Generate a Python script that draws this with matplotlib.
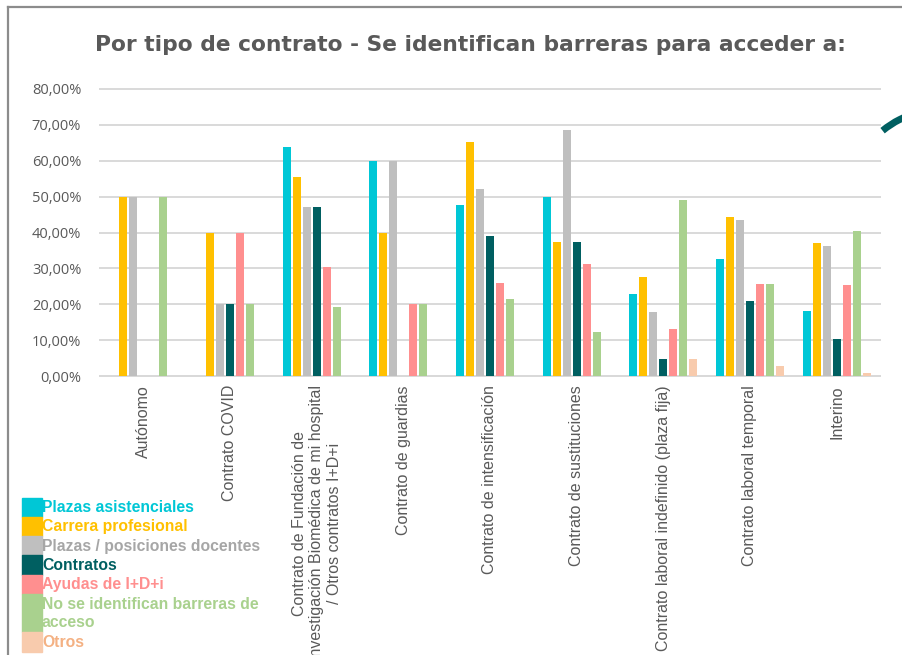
import numpy as np
import matplotlib
matplotlib.use('Agg')
import matplotlib.pyplot as plt
from matplotlib.patches import Rectangle, Arc
from matplotlib.lines import Line2D

plt.rcParams['font.family'] = ['Liberation Sans', 'DejaVu Sans']

# tipos de contrato (eje x)
contratos = [
    'Autónomo',
    'Contrato COVID',
    'Contrato de Fundación de\nInvestigación Biomédica de mi hospital\n/ Otros contratos I+D+i',
    'Contrato de guardias',
    'Contrato de intensificación',
    'Contrato de sustituciones',
    'Contrato laboral indefinido (plaza fija)',
    'Contrato laboral temporal',
    'Interino',
]

series = [
    'Plazas asistenciales',
    'Carrera profesional',
    'Plazas / posiciones docentes',
    'Contratos',
    'Ayudas de I+D+i',
    'No se identifican barreras de\nacceso',
    'Otros',
]

# porcentajes por serie, en el orden de contratos
plazas_asistenciales = [0.0, 0.0, 63.8, 60.0, 47.6, 50.0, 22.8, 32.6, 18.0]
carrera_profesional = [50.0, 40.0, 55.4, 40.0, 65.1, 37.4, 27.7, 44.4, 37.1]
plazas_docentes = [50.0, 20.0, 47.1, 60.0, 52.1, 68.6, 17.9, 43.5, 36.1]
contratos_vals = [0.0, 20.0, 47.1, 0.0, 39.0, 37.4, 4.8, 21.0, 10.4]
ayudas_idi = [0.0, 40.0, 30.4, 20.0, 26.0, 31.1, 13.0, 25.7, 25.4]
sin_barreras = [50.0, 20.0, 19.3, 20.0, 21.5, 12.3, 49.0, 25.7, 40.3]
otros = [0.0, 0.0, 0.0, 0.0, 0.0, 0.0, 4.8, 2.9, 0.9]

valores = [plazas_asistenciales, carrera_profesional, plazas_docentes,
           contratos_vals, ayudas_idi, sin_barreras, otros]

colores = ['#00C7D6', '#FFC000', '#BFBFBF', '#005F61', '#FF8F8F', '#A9D18E', '#F8CBAD']
colores_texto = ['#00C7D6', '#FFC000', '#A6A6A6', '#005F61', '#FF8F8F', '#A9D18E', '#F4B183']

W, H = 903, 655
fig = plt.figure(figsize=(W / 100, H / 100), dpi=100)
fig.patch.set_facecolor('white')

ax = fig.add_axes([100 / W, 1 - 376 / H, 780 / W, 287 / H])

x = np.arange(len(contratos))
paso = 10 / 86.7
ancho = 8 / 86.7
for i, (vals, col) in enumerate(zip(valores, colores)):
    ax.bar(x + (i - 3) * paso, np.array(vals) / 100, width=ancho, color=col,
           zorder=3, linewidth=0)

ax.set_xlim(-0.5, len(contratos) - 0.5)
ax.set_ylim(0, 0.8)
yt = np.arange(0, 0.81, 0.1)
ax.set_yticks(yt)
ax.set_yticklabels([('%.2f%%' % (v * 100)).replace('.', ',') for v in yt],
                   color='#595959', fontsize=10.5, family=['Open Sans', 'DejaVu Sans'])
ax.set_xticks(x)
ax.set_xticklabels(contratos, rotation=90, color='#595959', fontsize=11.5,
                   ha='center', va='top', multialignment='center')
ax.tick_params(axis='y', length=0, pad=13.5)
ax.tick_params(axis='x', length=0, pad=6.5)

for s in ['top', 'right', 'left']:
    ax.spines[s].set_visible(False)
ax.spines['bottom'].set_color('#D9D9D9')
ax.spines['bottom'].set_linewidth(1.4)
ax.yaxis.grid(True, color='#D9D9D9', linewidth=1.4, zorder=0)
for gl in ax.yaxis.get_gridlines():
    gl.set_clip_on(False)
ax.set_axisbelow(True)

# título
fig.text(470 / W, 1 - 45 / H, 'Por tipo de contrato - Se identifican barreras para acceder a:',
         ha='center', va='center', fontsize=15.7, fontweight='bold', color='#595959',
         family=['DejaVu Sans'])

# leyenda dibujada a mano en píxeles de la figura
def px(xp, yp):
    return xp / W, 1 - yp / H

filas = [(498, 517), (517, 536), (536, 555), (555, 575), (575, 594), (594, 632), (632, 652)]
for (y0, y1), nombre, col, ct in zip(filas, series, colores, colores_texto):
    fx, fy = px(22, y1)
    fig.patches.append(Rectangle((fx, fy), 19.5 / W, (y1 - y0) / H, color=col,
                                 transform=fig.transFigure, figure=fig))
    tx, ty = px(42, (y0 + y1) / 2 + 0.5)
    fig.text(tx, ty, nombre, ha='left', va='center', fontsize=11.3, fontweight='bold',
             color=ct, linespacing=1.22)

# marco del gráfico
fig.lines.append(Line2D([8 / W, 8 / W], [0, 1 - 7 / H], color='#8C8C8C', linewidth=1.6,
                        transform=fig.transFigure, figure=fig))
fig.lines.append(Line2D([8 / W, 1], [1 - 7 / H, 1 - 7 / H], color='#8C8C8C', linewidth=1.6,
                        transform=fig.transFigure, figure=fig))

# trozo del elemento decorativo de la derecha
fig.patches.append(Arc(px(940, 200), 180 / W, 180 / H, theta1=100, theta2=121,
                       color='#005F61', linewidth=5, transform=fig.transFigure, figure=fig))

fig.savefig('out.png', dpi=100, facecolor='white')
